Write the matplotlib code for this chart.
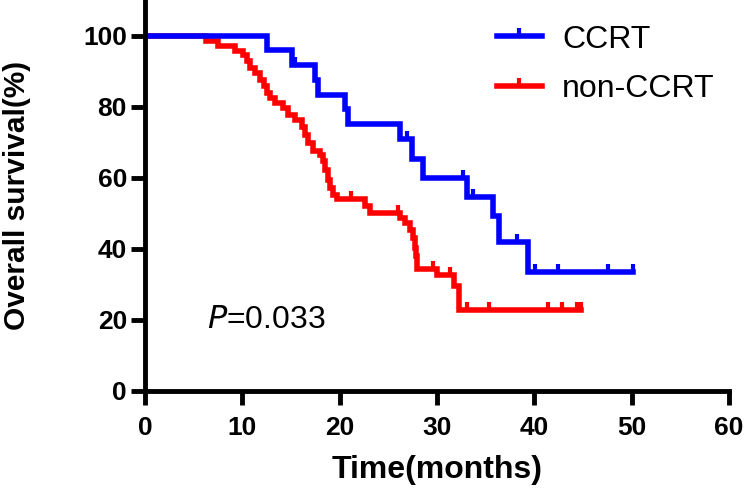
import numpy as np
import matplotlib as mpl
mpl.use('Agg')
from matplotlib import pyplot as plt
from matplotlib.lines import Line2D

plt.rcParams['font.family'] = ['Liberation Sans', 'DejaVu Sans']

# -- data (KM step points, %) -- #
ccrt_t = [0, 12.5, 15.1, 17.5, 17.8, 20.6, 20.9, 26.2, 27.4, 28.6, 33.1, 35.8, 36.4, 39.4, 50.1]
ccrt_s = [100, 95.8, 91.7, 87.5, 83.3, 79.2, 75.0, 70.8, 65.3, 60.0, 54.7, 49.2, 41.8, 33.4, 33.4]
ccrt_cens = [15.4, 26.9, 32.7, 33.7, 38.2, 40.1, 42.4, 47.6, 50.1]

non_t = [0, 6.3, 7.5, 9.25, 10.1, 10.45, 10.8, 11.3, 11.8, 12.2, 12.5, 12.85, 13.4, 14.2,
         14.7, 15.4, 16.1, 16.4, 16.8, 17.3, 18.0, 18.3, 18.5, 18.8, 19.0, 19.35, 19.7,
         22.6, 23.1, 26.2, 26.7, 27.2, 27.5, 27.7, 27.8, 27.9, 30.0, 31.7, 32.3, 44.8]
non_s = [100, 98.4, 97.0, 95.6, 94.4, 92.8, 90.9, 89.5, 87.6, 85.7, 83.9, 82.4, 81.0, 79.6,
         77.7, 76.3, 74.4, 72.1, 69.8, 67.4, 66.5, 64.6, 62.3, 59.4, 57.1, 55.2, 54.0,
         52.0, 50.0, 48.6, 47.2, 45.4, 43.0, 40.2, 38.0, 34.4, 32.7, 29.4, 22.8, 22.8]
non_cens = [21.2, 26.0, 29.6, 31.3, 33.1, 35.3, 41.4, 42.8, 44.4, 44.8]

groups = ['CCRT', 'non-CCRT']
colors = ['#0000ff', '#ff0000']
p_text = '0.033'

tick_up = [(0, 0), (0, 1)]   # censor mark, drawn upward from the curve


def step_value(t, times, surv):
    i = np.searchsorted(times, t, side='right') - 1
    return surv[i]


fig = plt.figure(figsize=(7.45, 4.91), dpi=100)
ax = fig.add_axes([0.1946, 0.2037, 0.7839, 0.7963])

curves = [(ccrt_t, ccrt_s, ccrt_cens), (non_t, non_s, non_cens)]
for (t, s, cens), c in zip(curves[::-1], colors[::-1]):
    ax.step(t, s, where='post', color=c, lw=4, solid_joinstyle='miter')
    cy = [step_value(x, t, s) for x in cens]
    ax.plot(cens, cy, ls='none', marker=tick_up, ms=11, mew=3, color=c)

## -- format plot -- ##
ax.set_xlim(0, 60)
ax.set_ylim(0, 110)
ax.set_xticks(np.arange(0, 61, 10))
ax.set_yticks(np.arange(0, 101, 20))
for side in ['top', 'right']:
    ax.spines[side].set_visible(False)
for side in ['left', 'bottom']:
    ax.spines[side].set_linewidth(3.5)
ax.tick_params(length=10, width=3.5, labelsize=19)
ax.tick_params(axis='y', pad=3)
ax.tick_params(axis='x', pad=8)
for lab in ax.get_xticklabels() + ax.get_yticklabels():
    lab.set_fontweight('bold')

ax.set_xlabel('Time(months)', fontsize=23, fontweight='bold', labelpad=11)
ax.set_ylabel('Overall survival(%)', fontsize=21.5, fontweight='bold', labelpad=37.5)

handles = [Line2D([], [], color=c, lw=4, marker=tick_up, ms=11, mew=3) for c in colors]
ax.legend(handles, groups, loc='upper left', bbox_to_anchor=(0.603, 0.937), frameon=False,
          fontsize=23, handlelength=1.4, handletextpad=0.63, labelspacing=0.6,
          borderpad=0, borderaxespad=0, numpoints=1)

ax.text(6.4, 20, r'$\it{P}$=' + p_text, fontsize=23, va='center')

fig.savefig('out.png', dpi=100)
